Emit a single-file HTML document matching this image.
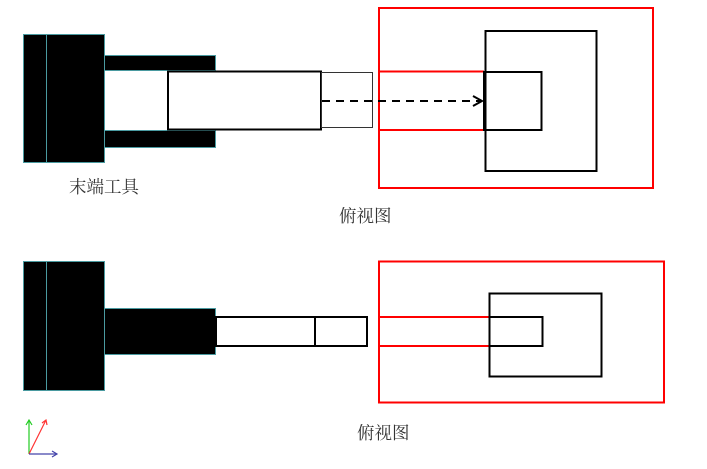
<!DOCTYPE html>
<html><head><meta charset="utf-8"><style>body{margin:0;background:#fff}</style></head><body>
<svg width="707" height="464" xmlns="http://www.w3.org/2000/svg" font-family="Liberation Serif, Noto Serif CJK SC, serif">
<rect width="707" height="464" fill="#fff"/>
<g stroke="#4a9aa0" stroke-width="1" fill="#000">
<rect x="23.5" y="34.5" width="81" height="128"/>
<line x1="46.5" y1="34" x2="46.5" y2="162"/>
<rect x="104.5" y="55.5" width="111" height="15"/>
<rect x="104.5" y="130.5" width="111" height="17"/>
</g>
<rect x="168" y="71.5" width="153" height="58" fill="#fff" stroke="#000" stroke-width="2"/>
<rect x="321.5" y="72.5" width="51" height="55" fill="none" stroke="#333" stroke-width="1"/>
<rect x="379" y="8" width="274" height="180" fill="none" stroke="#f00" stroke-width="2"/>
<line x1="379" y1="71.5" x2="484" y2="71.5" stroke="#f00" stroke-width="2"/>
<line x1="379" y1="130" x2="484" y2="130" stroke="#f00" stroke-width="2"/>
<rect x="485.5" y="31" width="111" height="140" fill="none" stroke="#000" stroke-width="2"/>
<rect x="484.5" y="72" width="57" height="58" fill="none" stroke="#000" stroke-width="2"/>
<line x1="484.5" y1="71" x2="484.5" y2="131" stroke="#000" stroke-width="3"/>
<line x1="322" y1="101" x2="481" y2="101" stroke="#000" stroke-width="2" stroke-dasharray="8,6"/>
<polyline points="473,96 482,101 473,106" fill="none" stroke="#000" stroke-width="2"/>
<text x="69" y="193" font-size="17.5" fill="#333">末端工具</text>
<text x="339" y="222" font-size="17.5" fill="#333">俯视图</text>
<g stroke="#4a9aa0" stroke-width="1" fill="#000">
<rect x="23.5" y="261.5" width="81" height="129"/>
<line x1="46.5" y1="261" x2="46.5" y2="390"/>
<rect x="104.5" y="308.5" width="111" height="46"/>
</g>
<rect x="216" y="317" width="151" height="29" fill="none" stroke="#000" stroke-width="2"/>
<line x1="315" y1="317" x2="315" y2="346" stroke="#000" stroke-width="2"/>
<rect x="379" y="261.5" width="285" height="141" fill="none" stroke="#f00" stroke-width="2"/>
<line x1="379" y1="317" x2="489" y2="317" stroke="#f00" stroke-width="2"/>
<line x1="379" y1="346" x2="489" y2="346" stroke="#f00" stroke-width="2"/>
<rect x="489.5" y="293.5" width="112" height="83" fill="none" stroke="#000" stroke-width="2"/>
<rect x="489.5" y="317" width="53" height="29" fill="none" stroke="#000" stroke-width="2"/>
<text x="357" y="439" font-size="17.5" fill="#333">俯视图</text>
<line x1="29" y1="454" x2="29" y2="420" stroke="#2c2" stroke-width="1.2"/>
<polyline points="26,425 29,420 32,425" fill="none" stroke="#2c2" stroke-width="1.2"/>
<line x1="29" y1="454" x2="46" y2="420" stroke="#f33" stroke-width="1.2"/>
<polyline points="42,423 46,420 47,425" fill="none" stroke="#f33" stroke-width="1.2"/>
<line x1="29" y1="454" x2="57" y2="454" stroke="#44a" stroke-width="1.2"/>
<polyline points="52,451 57,454 52,457" fill="none" stroke="#44a" stroke-width="1.2"/>
</svg>
</body></html>
